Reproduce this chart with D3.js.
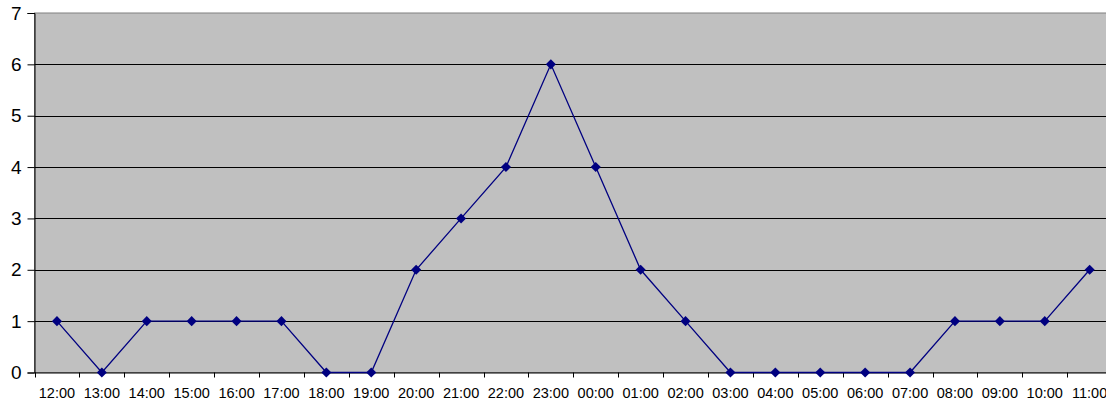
<!DOCTYPE html>
<html><head><meta charset="utf-8">
<script src="https://cdn.jsdelivr.net/npm/d3@7"></script>
<style>body{margin:0;background:#fff}svg{display:block}</style>
</head><body>
<script>
const categories = ["12:00","13:00","14:00","15:00","16:00","17:00","18:00","19:00","20:00","21:00","22:00","23:00","00:00","01:00","02:00","03:00","04:00","05:00","06:00","07:00","08:00","09:00","10:00","11:00"];
const values = [1,0,1,1,1,1,0,0,2,3,4,6,4,2,1,0,0,0,0,0,1,1,1,2];
const yTicks = [0,1,2,3,4,5,6,7];

const W = 1106, H = 408;
const mLeft = 34.5, mTop = 13, mBottom = 372.5;
const band = 44.9;
const mRight = mLeft + band * categories.length;

const svg = d3.select("body").append("svg").attr("width", W).attr("height", H);
const x = d3.scaleBand().domain(categories).range([mLeft, mRight]).padding(0);
const y = d3.scaleLinear().domain([0, 7]).range([mBottom, mTop]);

svg.append("rect").attr("x", mLeft).attr("y", mTop).attr("width", mRight - mLeft).attr("height", mBottom - mTop)
  .attr("fill", "#c0c0c0").attr("stroke", "#808080").attr("stroke-width", 1);

svg.append("g").selectAll("line").data(yTicks.filter(d => d > 0 && d < 7)).join("line")
  .attr("x1", mLeft).attr("x2", mRight)
  .attr("y1", d => Math.round(y(d)) + 0.5).attr("y2", d => Math.round(y(d)) + 0.5)
  .attr("stroke", "#000").attr("stroke-width", 1);

// y axis
const yAxis = d3.axisLeft(y).tickValues(yTicks).tickSize(7).tickPadding(6).tickFormat(d3.format("d"));
const gy = svg.append("g").attr("transform", `translate(${mLeft},0)`).call(yAxis);
gy.select(".domain").attr("stroke", "#000");
gy.selectAll(".tick line").attr("stroke", "#000");
gy.selectAll("text").attr("font-family", "Liberation Sans, Arial, sans-serif").attr("font-size", 19).attr("fill", "#000");

// x axis
const xAxis = d3.axisBottom(x).tickSize(0).tickPadding(15);
const gx = svg.append("g").attr("transform", `translate(0,${mBottom})`).call(xAxis);
gx.select(".domain").attr("stroke", "#000");
gx.selectAll("text").attr("font-family", "Liberation Sans, Arial, sans-serif").attr("font-size", 14.5).attr("fill", "#000");
// boundary tick marks
svg.append("g").selectAll("line").data(d3.range(categories.length + 1)).join("line")
  .attr("x1", i => Math.round(mLeft + i * band) + 0.5).attr("x2", i => Math.round(mLeft + i * band) + 0.5)
  .attr("y1", mBottom).attr("y2", mBottom + 5).attr("stroke", "#000");

const cx = d => x(d) + x.bandwidth() / 2;
const line = d3.line().x((d, i) => cx(categories[i])).y(d => y(d));
svg.append("path").datum(values).attr("d", line).attr("fill", "none").attr("stroke", "#000080").attr("stroke-width", 1.3);

svg.append("g").selectAll("path").data(values).join("path")
  .attr("d", d3.symbol().type(d3.symbolDiamond2).size(65))
  .attr("transform", (d, i) => `translate(${cx(categories[i])},${y(d)})`)
  .attr("fill", "#000080");
</script>
</body></html>
